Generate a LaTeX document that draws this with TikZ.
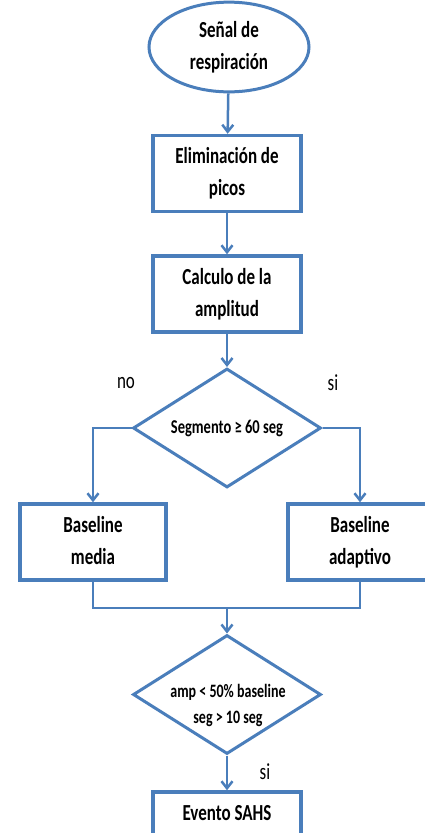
\documentclass[tikz,border=0pt]{standalone}
\usepackage{fontspec}
\setmainfont{Carlito}
\usetikzlibrary{shapes.geometric,arrows.meta}
\definecolor{ob}{RGB}{74,126,187}
\newcommand{\stx}[1]{\scalebox{1}[1.35]{\begin{tabular}{@{}c@{}}#1\end{tabular}}}
\tikzset{
 base/.style={draw=ob, line width=3.5pt, fill=white, inner sep=0pt, font=\bfseries\fontsize{17}{23.5}\selectfont},
 box/.style={base, rectangle, minimum width=148pt, minimum height=76pt},
 oval/.style={base, ellipse, line width=3pt, minimum width=160pt, minimum height=73pt},
 dia/.style={base, diamond, line width=3pt, minimum width=188pt, minimum height=119pt, shape aspect=1.58},
 conn/.style={draw=ob, line width=2.5pt},
 arr/.style={conn, -{Straight Barb[length=7pt,width=11pt]}},
 lbl/.style={font=\fontsize{17}{22}\selectfont, inner sep=0pt}
}
\begin{document}
\begin{tikzpicture}[x=1pt,y=-1pt]
\useasboundingbox (0,0) rectangle (425,833);
\clip (0,0) rectangle (425,833);
\fill[white] (0,0) rectangle (425,833);
\node[oval] (e) at (229,47) {\stx{Señal de\\respiración}};
\node[box] (b1) at (227,173.5) {\stx{Eliminación de\\picos}};
\node[box] (b2) at (227,294) {\stx{Calculo de la\\amplitud}};
\node[dia, font=\bfseries\fontsize{14.5}{20}\selectfont] (d1) at (227,428) {\stx{Segmento ≥ 60 seg}};
\node[box, minimum width=146pt] (bl) at (93,542) {\stx{Baseline\\media}};
\node[box, minimum width=144pt] (br) at (360,542) {\stx{Baseline\\adaptivo}};
\node[dia] (d2) at (227,694.5) {};
\node[inner sep=0pt, font=\bfseries\fontsize{14}{19.3}\selectfont] (d2t) at (228,705) {\stx{amp < 50\% baseline\\seg > 10 seg}};
\node[box] (fin) at (227,830) {\stx{Evento SAHS\\\mbox{}}};
\node[lbl] (lno) at (126,383) {\scalebox{1}[1.35]{no}};
\node[lbl] (lsi1) at (333,383) {\scalebox{1}[1.35]{si}};
\node[lbl] (lsi2) at (265,772) {\scalebox{1}[1.35]{si}};
\coordinate (j) at (227,608);
\draw[arr] (e) -- (b1);
\draw[arr] (b1) -- (b2);
\draw[arr] (b2) -- (d1);
\draw[arr] (d1.west) -| (bl.north);
\draw[arr] (d1.east) -| (br.north);
\draw[conn] (bl.south) |- (j) -| (br.south);
\draw[arr] (j) -- (d2.north);
\draw[arr] (d2) -- (fin);
\end{tikzpicture}
\end{document}
